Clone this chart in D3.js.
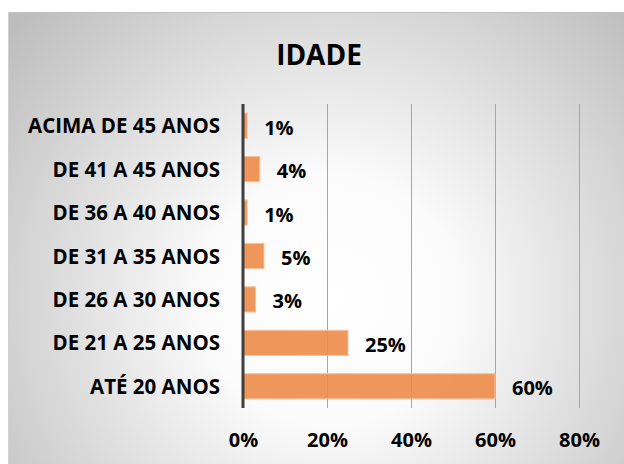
<!DOCTYPE html>
<html><head><meta charset="utf-8">
<script src="https://cdn.jsdelivr.net/npm/d3@7"></script>
<style>body{margin:0;background:#fff}svg{display:block}</style>
</head><body>
<svg id="c" width="624" height="464"></svg>
<script>
const categories = ["ACIMA DE 45 ANOS","DE 41 A 45 ANOS","DE 36 A 40 ANOS","DE 31 A 35 ANOS","DE 26 A 30 ANOS","DE 21 A 25 ANOS","ATÉ 20 ANOS"];
const values = [1,4,1,5,3,25,60];
const ticks = [0,20,40,60,80];
const title = "IDADE";

const svg = d3.select("#c");
const defs = svg.append("defs");
const g = defs.append("radialGradient").attr("id","bg").attr("gradientUnits","userSpaceOnUse")
  .attr("cx",330).attr("cy",300).attr("r",420);
g.append("stop").attr("offset","0").attr("stop-color","#ffffff");
g.append("stop").attr("offset","0.3").attr("stop-color","#fbfbfb");
g.append("stop").attr("offset","1").attr("stop-color","#bdbdbd");
svg.append("rect").attr("x",8).attr("y",12).attr("width",616).attr("height",452).attr("fill","url(#bg)");
svg.append("line").attr("x1",8).attr("x2",624).attr("y1",12.5).attr("y2",12.5).attr("stroke","#c0c0c0");
svg.append("line").attr("x1",8.5).attr("x2",8.5).attr("y1",12).attr("y2",464).attr("stroke","#d0d0d0");

const font = "'Open Sans', sans-serif";
const x = d3.scaleLinear().domain([0,80]).range([243,579]);
const y = d3.scaleBand().domain(categories).range([104,408]).paddingInner(0.42).paddingOuter(0.21);

svg.append("text").attr("x",319).attr("y",65).attr("text-anchor","middle")
  .attr("font-family",font).attr("font-weight","bold").attr("font-size",28).attr("fill","#000").text(title);

// gridlines
svg.append("g").selectAll("line").data(ticks.slice(1)).join("line")
  .attr("x1",d=>x(d)+0.5).attr("x2",d=>x(d)+0.5).attr("y1",104).attr("y2",408)
  .attr("stroke","#a6a6a6").attr("stroke-width",1);

// bars
svg.append("g").selectAll("rect").data(values).join("rect")
  .attr("x",x(0)).attr("y",(d,i)=>y(categories[i]))
  .attr("width",d=>x(d)-x(0)).attr("height",y.bandwidth())
  .attr("fill","#ed8c48").attr("fill-opacity",0.9).attr("stroke","#f6c29c").attr("stroke-width",1);

// axis line
svg.append("line").attr("x1",x(0)).attr("x2",x(0)).attr("y1",104).attr("y2",408)
  .attr("stroke","#3f3f3f").attr("stroke-width",3);

// value labels
svg.append("g").selectAll("text").data(values).join("text")
  .attr("x",d=>x(d)+17).attr("y",(d,i)=>y(categories[i])+y.bandwidth()/2+9)
  .attr("font-family",font).attr("font-weight","bold").attr("font-size",20).attr("fill","#000")
  .text(d=>d+"%");

// category labels
const ax = d3.axisLeft(y).tickSize(0).tickPadding(0);
const ga = svg.append("g").attr("transform","translate(220,0)").call(ax);
ga.select(".domain").remove();
ga.selectAll("text").attr("font-family",font).attr("font-weight","bold").attr("font-size",20.5).attr("fill","#000").attr("dy",7.5);

// x tick labels
const bx = d3.axisBottom(x).tickValues(ticks).tickSize(0).tickPadding(0).tickFormat(d=>d+"%");
const gb = svg.append("g").attr("transform","translate(0,447)").call(bx);
gb.select(".domain").remove();
gb.selectAll("text").attr("font-family",font).attr("font-weight","bold").attr("font-size",20).attr("fill","#000").attr("dy",0);
</script>
</body></html>
